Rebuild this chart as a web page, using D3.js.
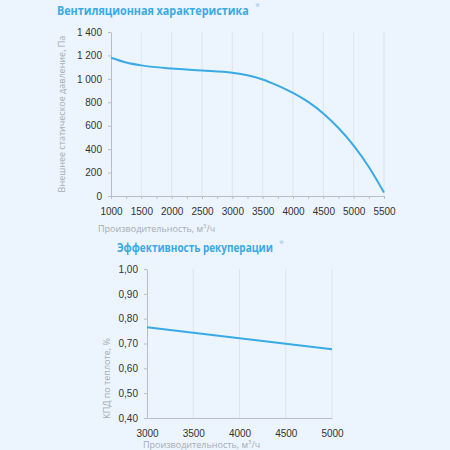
<!DOCTYPE html>
<html>
<head>
<meta charset="utf-8">
<script src="https://cdn.jsdelivr.net/npm/d3@7"></script>
<style>
  body { margin: 0; background: #ecf5fd; }
  svg { display: block; font-family: "Open Sans", sans-serif; }
  .title { fill: #3aa9e4; font-weight: bold; font-size: 12.5px; }
  .star { fill: #9cc9e6; font-size: 9px; }
  .axis-label { fill: #a4acb4; font-size: 9px; }
  .tick text { fill: #333; font-size: 10px; }
  .axis path, .axis line { stroke: #b8bec4; }
  .grid line { stroke: #dde5ec; stroke-width: 1; }
</style>
</head>
<body>
<svg id="chart" width="450" height="450"></svg>
<script>
// fan curve
let fanFlow = [1000, 1250, 1500, 2000, 2500, 3000, 3250, 3500, 3750, 4000, 4250, 4500, 4750, 5000, 5250, 5500];
let fanPressure = [1180, 1140, 1115, 1088, 1072, 1052, 1030, 995, 942, 880, 803, 705, 580, 430, 248, 30];
let fanXTicks = [1000, 1500, 2000, 2500, 3000, 3500, 4000, 4500, 5000, 5500];
let fanYTicks = [0, 200, 400, 600, 800, 1000, 1200, 1400];

// recuperation efficiency
let recFlow = [3000, 3500, 4000, 4500, 5000];
let recEff = [0.765, 0.743, 0.721, 0.699, 0.677];
let recXTicks = [3000, 3500, 4000, 4500, 5000];
let recYTicks = [0.4, 0.5, 0.6, 0.7, 0.8, 0.9, 1.0];

let svg = d3.select("#chart");
let lineColor = "#3aaae6";

function drawChart(cfg){
  let g = svg.append("g");
  let x = d3.scaleLinear().domain(cfg.xDomain).range([cfg.left, cfg.right]);
  let y = d3.scaleLinear().domain(cfg.yDomain).range([cfg.bottom, cfg.top]);

  // vertical grid
  g.append("g").attr("class","grid")
    .selectAll("line")
    .data(cfg.xTicks.slice(1))
    .enter().append("line")
    .attr("x1", d => x(d)).attr("x2", d => x(d))
    .attr("y1", cfg.top).attr("y2", cfg.bottom);

  g.append("g").attr("class","axis")
    .attr("transform","translate(0," + cfg.bottom + ")")
    .call(d3.axisBottom(x).tickValues(cfg.xMinor).tickSizeInner(cfg.xTickSize).tickSizeOuter(0).tickFormat(""));
  g.append("g").attr("class","axis")
    .attr("transform","translate(0," + cfg.bottom + ")")
    .call(d3.axisBottom(x).tickValues(cfg.xTicks).tickSize(0).tickPadding(cfg.xPad).tickFormat(d3.format("d")))
    .call(a => a.select(".domain").remove());

  g.append("g").attr("class","axis")
    .attr("transform","translate(" + cfg.left + ",0)")
    .call(d3.axisLeft(y).tickValues(cfg.yTicks).tickSizeInner(3).tickSizeOuter(0).tickPadding(cfg.yPad).tickFormat(cfg.yFormat));

  g.append("path")
    .datum(cfg.xs.map((v, i) => [v, cfg.ys[i]]))
    .attr("fill","none")
    .attr("stroke", lineColor)
    .attr("stroke-width", 2)
    .attr("d", d3.line().x(d => x(d[0])).y(d => y(d[1])).curve(d3.curveMonotoneX));

  // title squeezed horizontally to the width in the picture
  let title = g.append("text").attr("class","title").attr("x", 0).attr("y", 0).text(cfg.title);
  let w = title.node().getComputedTextLength();
  title.attr("transform","translate(" + cfg.titleX + "," + cfg.titleY + ") scale(" + (cfg.titleLen / w) + ",1)");
  g.append("text").attr("class","star")
    .attr("x", cfg.titleX + cfg.titleLen + 6).attr("y", cfg.titleY - 5)
    .text("*");

  g.append("text").attr("class","axis-label")
    .attr("x", cfg.xLabelX).attr("y", cfg.xLabelY)
    .text("Производительность, м")
    .append("tspan").attr("font-size", 6).attr("dy", -4).text("3")
    .select(function(){ return this.parentNode; })
    .append("tspan").attr("dy", 4).text("/ч");

  g.append("text").attr("class","axis-label")
    .attr("transform","translate(" + cfg.yLabelX + "," + ((cfg.top + cfg.bottom) / 2 + cfg.yLabelShift) + ") rotate(-90)")
    .attr("text-anchor","middle")
    .text(cfg.yLabel);
}

let spaceFmt = d3.formatLocale({decimal: ",", thousands: " ", grouping: [3], currency: ["", ""]});

drawChart({
  xDomain: [1000, 5500], yDomain: [0, 1400],
  left: 111, right: 384, top: 32, bottom: 196,
  xTicks: fanXTicks, yTicks: fanYTicks,
  xMinor: d3.range(1000, 5501, 250), xTickSize: 3, xPad: 12, yPad: 6,
  yFormat: spaceFmt.format(",d"),
  xs: fanFlow, ys: fanPressure,
  title: "Вентиляционная характеристика", titleX: 57, titleY: 15, titleLen: 192,
  xLabelX: 98, xLabelY: 232,
  yLabel: "Внешнее статическое давление, Па", yLabelX: 65, yLabelShift: 0
});

drawChart({
  xDomain: [3000, 5000], yDomain: [0.4, 1.0],
  left: 147, right: 332, top: 269, bottom: 418,
  xTicks: recXTicks, yTicks: recYTicks,
  xMinor: recXTicks, xTickSize: 0, xPad: 12, yPad: 6,
  yFormat: spaceFmt.format(".2f"),
  xs: recFlow, ys: recEff,
  title: "Эффективность рекуперации", titleX: 117, titleY: 252, titleLen: 156,
  xLabelX: 143, xLabelY: 448,
  yLabel: "КПД по теплоте, %", yLabelX: 110, yLabelShift: 35
});
</script>
</body>
</html>
